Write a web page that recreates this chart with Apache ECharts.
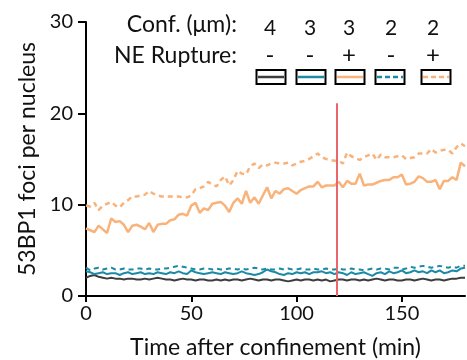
<!DOCTYPE html>
<html>
<head>
<meta charset="utf-8">
<script src="https://cdn.jsdelivr.net/npm/echarts@6/dist/echarts.min.js"></script>
<style>
  html, body { margin: 0; padding: 0; background: #fff; }
  #chart { width: 467px; height: 360px; }
</style>
</head>
<body>
<div id="chart"></div>
<script>
// time after confinement (min), one frame every 2 min
const times = [
  0, 2, 4, 6, 8, 10, 12, 14, 16, 18, 20, 22, 24, 26, 28, 30, 32, 34, 36, 38,
  40, 42, 44, 46, 48, 50, 52, 54, 56, 58, 60, 62, 64, 66, 68, 70, 72, 74, 76, 78,
  80, 82, 84, 86, 88, 90, 92, 94, 96, 98, 100, 102, 104, 106, 108, 110, 112, 114, 116, 118,
  120, 122, 124, 126, 128, 130, 132, 134, 136, 138, 140, 142, 144, 146, 148, 150, 152, 154, 156, 158,
  160, 162, 164, 166, 168, 170, 172, 174, 176, 178, 180
]

// 4 um, no rupture
const conf4 = [
  2.0, 2.2, 2.3, 2.1, 2.0, 1.9, 2.0, 1.9, 1.9, 1.8, 1.9, 1.9, 1.8, 1.8, 1.9, 1.8, 1.9, 2.0, 1.9, 1.8,
  1.8, 1.7, 1.8, 1.9, 1.8, 1.8, 1.7, 1.8, 1.8, 1.7, 1.7, 1.8, 1.7, 1.8, 1.7, 1.8, 1.8, 1.7, 1.8, 1.9,
  1.8, 1.7, 1.8, 1.8, 1.7, 1.8, 1.8, 1.7, 1.6, 1.7, 1.8, 1.7, 1.8, 1.8, 1.7, 1.8, 1.7, 1.8, 1.6, 1.7,
  1.8, 1.8, 1.7, 1.8, 1.8, 1.7, 1.8, 1.7, 1.8, 1.9, 1.8, 1.7, 1.8, 1.8, 1.7, 1.7, 1.8, 1.8, 1.7, 1.8,
  1.9, 1.8, 1.7, 1.8, 1.8, 1.7, 1.8, 1.9, 1.9, 2.0, 2.0
]
// 3 um, no rupture
const conf3 = [
  2.7, 2.6, 2.4, 2.5, 2.6, 2.4, 2.5, 2.5, 2.3, 2.5, 2.6, 2.4, 2.5, 2.6, 2.4, 2.5, 2.4, 2.6, 2.5, 2.4,
  2.6, 2.5, 2.7, 2.5, 2.4, 2.8, 2.6, 2.5, 2.4, 2.5, 2.6, 2.5, 2.4, 2.6, 2.5, 2.4, 2.5, 2.7, 2.5, 2.4,
  2.3, 2.4, 2.6, 2.9, 2.7, 2.6, 2.4, 2.3, 2.5, 2.4, 2.6, 2.5, 2.6, 2.4, 2.6, 2.6, 2.7, 2.5, 2.6, 2.4,
  2.6, 2.5, 2.3, 2.6, 2.4, 2.5, 2.6, 2.4, 2.2, 2.5, 2.6, 2.4, 2.7, 2.5, 2.6, 2.8, 2.5, 2.6, 2.8, 2.6,
  2.7, 2.5, 2.8, 2.6, 2.8, 2.5, 2.6, 2.8, 2.7, 3.0, 3.1
]
// 3 um, ruptured
const conf3Rupt = [
  7.4, 7.2, 7.0, 7.7, 7.3, 6.9, 8.5, 8.1, 8.2, 7.8, 7.0, 7.7, 7.8, 7.6, 7.3, 8.0, 7.0, 7.8, 7.9, 7.9,
  8.3, 8.4, 8.9, 9.0, 8.8, 9.9, 10.2, 9.1, 9.6, 9.4, 10.1, 10.2, 10.3, 9.9, 9.2, 10.2, 10.7, 10.1, 11.5, 10.2,
  10.8, 10.1, 11.0, 11.9, 10.7, 11.5, 11.2, 11.7, 11.8, 11.5, 11.2, 11.6, 11.8, 12.0, 12.0, 12.5, 11.9, 12.1, 12.1, 12.1,
  12.5, 11.9, 12.6, 12.3, 12.3, 13.4, 12.1, 12.2, 12.2, 12.4, 12.6, 12.7, 12.7, 13.0, 13.0, 13.3, 12.2, 12.3, 12.5, 13.1,
  12.9, 12.5, 12.5, 12.7, 11.7, 12.6, 12.6, 13.0, 12.7, 14.6, 14.2
]
// 2 um, no rupture
const conf2 = [
  3.1, 2.8, 3.0, 3.1, 2.9, 3.0, 3.1, 2.9, 2.9, 3.0, 2.9, 2.9, 3.0, 3.0, 2.9, 3.0, 2.9, 2.9, 3.0, 3.0,
  3.1, 3.2, 3.3, 3.2, 3.1, 3.0, 2.9, 2.9, 3.0, 3.0, 2.9, 3.0, 2.9, 2.9, 3.0, 3.0, 2.9, 3.0, 2.9, 3.0,
  3.1, 3.0, 2.9, 3.0, 2.9, 2.9, 3.0, 2.9, 3.0, 2.9, 2.9, 3.0, 2.9, 2.9, 3.0, 2.9, 2.9, 3.0, 2.9, 2.9,
  3.0, 2.9, 2.9, 3.0, 2.9, 2.9, 2.8, 2.9, 3.0, 2.9, 3.0, 3.0, 2.9, 3.1, 3.1, 2.9, 3.0, 3.2, 3.1, 3.2,
  3.3, 3.2, 3.1, 3.2, 3.3, 3.2, 3.1, 3.2, 3.1, 3.3, 3.3
]
// 2 um, ruptured
const conf2Rupt = [
  9.9, 9.8, 10.2, 9.4, 9.9, 10.1, 10.3, 9.9, 9.7, 10.2, 10.5, 10.9, 10.9, 11.0, 11.1, 11.5, 11.2, 11.0, 10.9, 10.9,
  10.9, 10.9, 10.9, 10.8, 10.8, 11.0, 11.7, 11.8, 12.0, 12.5, 12.2, 12.0, 12.7, 13.1, 12.1, 12.7, 13.7, 13.4, 13.3, 14.2,
  14.5, 14.0, 14.4, 14.3, 14.5, 14.6, 14.5, 14.5, 14.6, 14.3, 14.5, 14.7, 14.8, 15.0, 15.3, 15.6, 15.2, 15.0, 14.9, 14.8,
  14.8, 14.5, 15.7, 15.3, 15.1, 14.9, 15.2, 15.4, 15.6, 14.9, 15.5, 15.2, 15.2, 15.2, 15.3, 15.4, 15.0, 15.1, 15.2, 15.6,
  15.6, 15.6, 16.1, 15.7, 15.9, 16.0, 16.0, 15.6, 16.3, 16.7, 16.4
]

const confLabels = ['4', '3', '3', '2', '2']
const ruptureLabels = ['-', '-', '+', '-', '+']
const xTicks = [0, 50, 100, 150]
const ruptureTime = 119
const ruptureLineTop = 21.1

const FONT = 'Lato'
const GREY = '#3d3d3d'
const TEAL = '#1b8aa6'
const ORANGE = '#f9b37a'
const RED = '#e8666c'

const pair = (ys) => ys.map((v, i) => [times[i], v])

const seriesDefs = [
  { data: conf4, color: GREY, dashed: false, width: 2 },
  { data: conf3, color: TEAL, dashed: false, width: 2 },
  { data: conf3Rupt, color: ORANGE, dashed: false, width: 2.5 },
  { data: conf2, color: TEAL, dashed: true, width: 2 },
  { data: conf2Rupt, color: ORANGE, dashed: true, width: 2.5 },
]

// legend boxes drawn by hand, like the original figure
const boxX = [271, 311, 350, 390, 436]
const textX = [270, 310, 349, 391, 433]
const legendGraphics = [
  { type: 'text', x: 237, y: 25, style: { text: 'Conf. (\u03bcm):', font: `23px ${FONT}`, fill: '#111', align: 'right', verticalAlign: 'middle' } },
  { type: 'text', x: 237, y: 56, style: { text: 'NE Rupture:', font: `23px ${FONT}`, fill: '#111', align: 'right', verticalAlign: 'middle' } },
]
seriesDefs.forEach((s, i) => {
  legendGraphics.push({
    type: 'text', x: textX[i], y: 28.5,
    style: { text: confLabels[i], font: `21px ${FONT}`, fill: '#111', align: 'center', verticalAlign: 'middle' },
  })
  legendGraphics.push({
    type: 'text', x: textX[i], y: 55,
    style: { text: ruptureLabels[i], font: `24px ${FONT}`, fill: '#111', align: 'center', verticalAlign: 'middle' },
  })
  legendGraphics.push({
    type: 'rect', shape: { x: boxX[i] - 14.5, y: 70, width: 29, height: 14 },
    style: { fill: '#fff', stroke: '#000', lineWidth: 2 },
  })
  legendGraphics.push({
    type: 'line', shape: { x1: boxX[i] - 13, y1: 77, x2: boxX[i] + 13, y2: 77 },
    style: { stroke: s.color, lineWidth: 2.5, lineDash: s.dashed ? [5, 3] : null },
  })
})

const chart = echarts.init(document.getElementById('chart'), null, { renderer: 'canvas' })

const series = seriesDefs.map((s, i) => ({
  type: 'line',
  data: pair(s.data),
  symbol: 'none',
  z: 3,
  lineStyle: { color: s.color, width: s.width, type: s.dashed ? [5, 4] : 'solid' },
  markLine: i === 0 ? {
    silent: true,
    symbol: 'none',
    label: { show: false },
    lineStyle: { color: RED, width: 2, type: 'solid' },
    data: [[{ coord: [ruptureTime, 0] }, { coord: [ruptureTime, ruptureLineTop] }]],
  } : undefined,
}))

chart.setOption({
  animation: false,
  textStyle: { fontFamily: FONT },
  grid: { left: 86, right: 2, top: 22, bottom: 64, outerBoundsMode: 'none' },
  xAxis: {
    type: 'value',
    min: 0,
    max: 180,
    interval: 50,
    name: 'Time after confinement (min)',
    nameLocation: 'middle',
    nameGap: 40,
    nameTextStyle: { fontSize: 23, color: '#111', fontFamily: FONT },
    axisLine: { show: true, lineStyle: { color: '#000', width: 2 } },
    axisTick: { show: true, length: 6, lineStyle: { color: '#000', width: 2 }, customValues: xTicks },
    axisLabel: { fontSize: 20, color: '#111', margin: 8, customValues: xTicks, fontFamily: FONT },
    splitLine: { show: false },
  },
  yAxis: {
    type: 'value',
    min: 0,
    max: 30,
    interval: 10,
    name: '53BP1 foci per nucleus',
    nameLocation: 'middle',
    nameGap: 42,
    nameTextStyle: { fontSize: 23, color: '#111', fontFamily: FONT },
    axisLine: { show: true, lineStyle: { color: '#000', width: 2 } },
    axisTick: { show: true, length: 8, lineStyle: { color: '#000', width: 2 } },
    axisLabel: { fontSize: 20, color: '#111', margin: 13, fontFamily: FONT },
    splitLine: { show: false },
  },
  series,
  graphic: legendGraphics,
})
</script>
</body>
</html>
